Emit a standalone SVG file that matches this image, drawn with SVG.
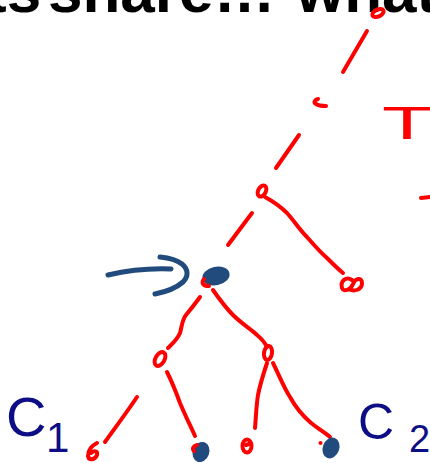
<svg xmlns="http://www.w3.org/2000/svg" width="430" height="463" viewBox="0 0 430 463">
  <style>
    .ink { fill: none; stroke: #ff0000; stroke-width: 4; stroke-linecap: round; stroke-linejoin: round; }
    .dot { fill: none; stroke: #ff0000; stroke-width: 4; }
    .marked { fill: #214a7d; stroke: #214a7d; stroke-width: 1.5; }
    .pen-blue { fill: none; stroke: #214a7d; stroke-width: 5; stroke-linecap: round; stroke-linejoin: round; }
    .title { font-family: "Liberation Sans", Arial, sans-serif; font-size: 62px; font-weight: bold; fill: #000000; }
    .label { font-family: "Liberation Sans", Arial, sans-serif; fill: #0d0d85; }
    .note { font-family: "Liberation Sans", Arial, sans-serif; fill: #ff0000; }
  </style>

  <!-- slide heading, mostly above the visible area -->
  <text class="title" y="12"><tspan x="-14">ts</tspan> <tspan x="48">share…</tspan> <tspan x="296">what</tspan></text>

  <!-- tree edges -->
  <g id="connectors">
    <!-- dashed run from the root down to the middle node -->
    <path class="ink" d="M 367 31 L 343 72"/>
    <path class="ink" d="M 299 135 L 276 168"/>
    <path class="ink" d="M 252 213 L 228 245"/>
    <!-- middle node to its right leaf -->
    <path class="ink" d="M 265 197 C 276 203, 282 208, 287 213 C 295 222, 300 230, 307 237 C 314 245, 320 252, 327 258 C 333 264, 338 269, 343 273"/>
    <!-- shared ancestor to its two children -->
    <path class="ink" d="M 200 297 C 195 304, 190 310, 186 315 C 182 320, 182 326, 180 333 C 177 340, 172 344, 168 348"/>
    <path class="ink" d="M 213 290 C 220 300, 226 308, 233 315 C 242 324, 251 329, 257 335 C 262 339, 265 343, 267 347"/>
    <!-- left child to its leaves -->
    <path class="ink" d="M 137 397 C 127 412, 115 428, 105 442"/>
    <path class="ink" d="M 167 372 C 172 382, 176 392, 180 403 C 185 415, 190 425, 195 436"/>
    <!-- right child to its leaves -->
    <path class="ink" d="M 267 363 C 263 375, 260 385, 258 395 C 256 408, 256 418, 255 428"/>
    <path class="ink" d="M 273 363 C 279 375, 284 388, 290 397 C 296 408, 302 415, 310 422 C 317 428, 324 432, 330 437"/>
    <!-- pointer at the shared ancestor -->
    <path class="pen-blue" d="M 108 275 C 125 271, 145 268, 171 269"/>
    <path class="pen-blue" d="M 160 257 C 170 258, 177 260, 182 264 C 188 269, 189 276, 183 282 C 175 289, 165 292, 155 294"/>
  </g>

  <g id="root">
    <ellipse class="dot" cx="378" cy="13" rx="6" ry="3.5" transform="rotate(-25 378 13)"/>
  </g>

  <g id="tick">
    <path class="ink" d="M 318 99 C 315 100, 313 102, 316 104 C 319 106, 323 106, 326 106"/>
  </g>

  <g id="mid">
    <ellipse class="dot" cx="262" cy="191" rx="3.8" ry="6" transform="rotate(28 262 191)"/>
  </g>

  <g id="mid-leaf">
    <path class="ink" d="M 352 280 C 346 276, 340 281, 342 288 C 344 293, 351 289, 353 284 C 355 278, 362 277, 362 283 C 362 290, 354 292, 349 289"/>
  </g>

  <g id="shared">
    <ellipse class="marked" cx="216" cy="276" rx="13" ry="8.5" transform="rotate(-12 216 276)"/>
    <path class="ink" d="M 204 279 C 201 283, 203 286, 209 286"/>
  </g>

  <g id="left-child">
    <ellipse class="dot" cx="160" cy="359" rx="4.5" ry="7.5" stroke-width="5" transform="rotate(30 160 359)"/>
  </g>

  <g id="right-child">
    <ellipse class="dot" cx="268" cy="353" rx="4" ry="7" transform="rotate(8 268 353)"/>
  </g>

  <g id="leaf-1">
    <path class="ink" d="M 97 443 C 91 446, 88 451, 88 456 C 89 461, 95 460, 97 455 C 98 451, 94 450, 91 453"/>
  </g>

  <g id="leaf-2">
    <ellipse class="marked" cx="201" cy="452" rx="7.5" ry="9.5" transform="rotate(20 201 452)"/>
    <path class="ink" d="M 197 445 C 193 446, 192 449, 194 451"/>
  </g>

  <g id="leaf-3">
    <ellipse class="dot" cx="247" cy="446" rx="4.5" ry="6.5" stroke-width="3.5"/>
    <path class="ink" d="M 246 445 L 249 444" stroke-width="3"/>
  </g>

  <g id="leaf-4">
    <ellipse class="marked" cx="331" cy="448" rx="7.5" ry="10" transform="rotate(20 331 448)"/>
    <circle cx="320.5" cy="443" r="2" fill="#ff0000"/>
  </g>

  <!-- handwritten labels -->
  <text class="label" y="436" font-size="56"><tspan x="6">C</tspan><tspan x="46" y="452" font-size="42">1</tspan></text>
  <text class="label" y="439" font-size="50"><tspan x="358">C</tspan><tspan x="409" y="452" font-size="38">2</tspan></text>

  <!-- margin note cut off at the right edge -->
  <text class="note" x="382" y="139" font-size="46" textLength="50" lengthAdjust="spacingAndGlyphs">T</text>
  <path class="ink" d="M 421 198 L 430 197"/>
</svg>
